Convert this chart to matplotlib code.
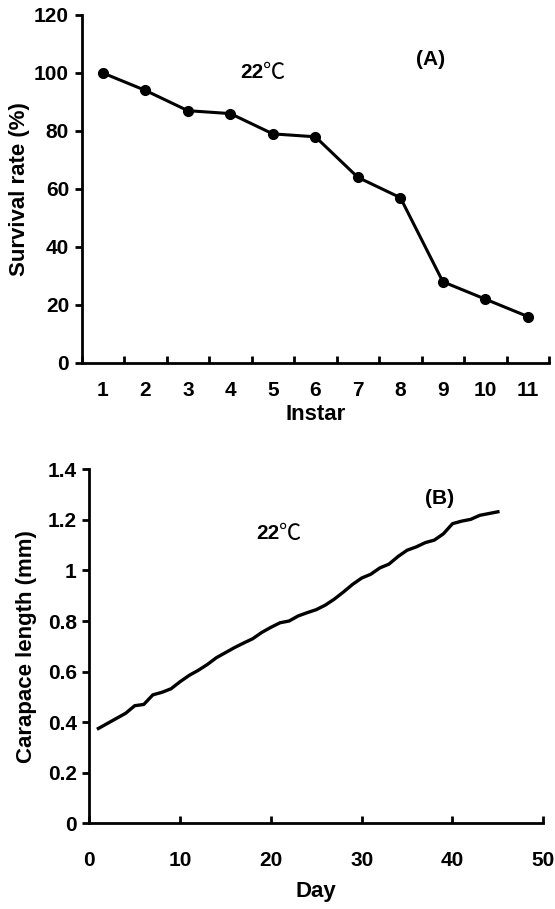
import matplotlib
matplotlib.use('Agg')
import numpy as np
from matplotlib import pyplot as plt

plt.rcParams['font.family'] = ['Liberation Sans', 'DejaVu Sans']
plt.rcParams['font.weight'] = 'bold'

# panel A: survival per instar
instar = [1, 2, 3, 4, 5, 6, 7, 8, 9, 10, 11]
survival = [100, 94, 87, 86, 79, 78, 64, 57, 28, 22, 16]

# panel B: carapace length by day
day = list(range(1, 46))
carapace = [0.375, 0.395, 0.415, 0.435, 0.465, 0.47, 0.508, 0.518, 0.532, 0.56,
             0.585, 0.605, 0.628, 0.655, 0.675, 0.695, 0.713, 0.73, 0.755, 0.775,
             0.793, 0.80, 0.82, 0.833, 0.845, 0.863, 0.887, 0.915, 0.945, 0.97,
             0.985, 1.01, 1.025, 1.055, 1.08, 1.093, 1.11, 1.12, 1.145, 1.185,
             1.195, 1.202, 1.218, 1.225, 1.232]

fs = 15
lfs = 16

def style(ax, xpad):
    for s in ['top', 'right']:
        ax.spines[s].set_visible(False)
    for s in ['left', 'bottom']:
        ax.spines[s].set_linewidth(2)
    ax.tick_params(axis='y', direction='out', length=5, width=2, labelsize=fs, pad=4)
    ax.tick_params(axis='x', direction='in', length=5, width=2, labelsize=fs, pad=xpad)

fig = plt.figure(figsize=(5.55, 9.09), dpi=100)

ax = fig.add_axes([0.147, 0.6007, 0.8425, 0.3828])
ax.plot(instar, survival, color='black', lw=2.2, marker='o', ms=7)
ax.set_xlim(0.5, 11.5)
ax.set_ylim(0, 120)
ax.set_yticks(range(0, 121, 20))
ax.set_xticks(np.arange(0.5, 11.6, 1))
ax.set_xticklabels([])
ax.set_xticks(instar, minor=True)
ax.set_xticklabels([str(i) for i in instar], minor=True)
style(ax, 12)
ax.tick_params(axis='x', which='minor', length=0, labelsize=fs, pad=13)
ax.set_xlabel('Instar', fontsize=lfs, fontweight='bold', labelpad=3)
ax.set_ylabel('Survival rate (%)', fontsize=lfs, fontweight='bold', labelpad=3)
ax.text(4.77, 100, '22', fontsize=fs, fontweight='bold', ha='right', va='center')
ax.text(4.77, 100, '℃', fontsize=fs + 1, fontweight='normal', ha='left', va='center',
        family=['Noto Sans CJK SC', 'DejaVu Sans'])
ax.text(8.72, 104.8, '(A)', fontsize=fs, fontweight='bold', ha='center', va='center')

bx = fig.add_axes([0.1609, 0.0943, 0.818, 0.3894])
bx.plot(day, carapace, color='black', lw=2.4)
bx.set_xlim(0, 50)
bx.set_ylim(0, 1.4)
bx.set_xticks(range(0, 51, 10))
bx.set_yticks([0, 0.2, 0.4, 0.6, 0.8, 1.0, 1.2, 1.4])
bx.set_yticklabels(['0', '0.2', '0.4', '0.6', '0.8', '1', '1.2', '1.4'])
style(bx, 20)
bx.set_xlabel('Day', fontsize=lfs, fontweight='bold', labelpad=8)
bx.set_ylabel('Carapace length (mm)', fontsize=lfs, fontweight='bold', labelpad=8)
bx.text(20.9, 1.148, '22', fontsize=fs, fontweight='bold', ha='right', va='center')
bx.text(20.9, 1.148, '℃', fontsize=fs + 1, fontweight='normal', ha='left', va='center',
        family=['Noto Sans CJK SC', 'DejaVu Sans'])
bx.text(38.6, 1.286, '(B)', fontsize=fs, fontweight='bold', ha='center', va='center')

fig.savefig('out.png', dpi=100)
